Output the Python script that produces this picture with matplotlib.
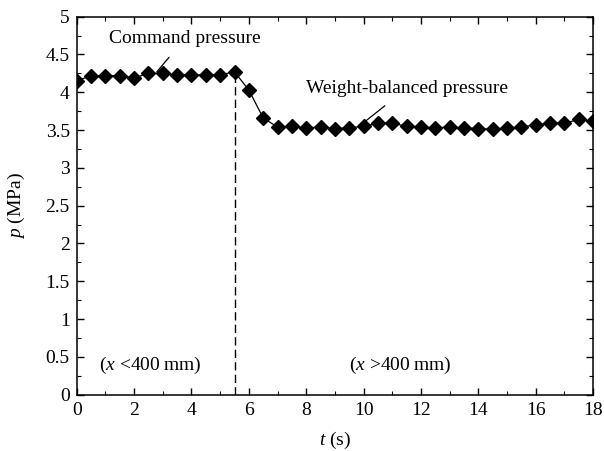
import numpy as np
import matplotlib.pyplot as plt
from matplotlib.ticker import MultipleLocator

plt.rcParams['font.family'] = ['Liberation Serif', 'DejaVu Serif']
plt.rcParams['mathtext.fontset'] = 'custom'
plt.rcParams['mathtext.rm'] = 'Liberation Serif'
plt.rcParams['mathtext.it'] = 'Liberation Serif:italic'

# pressure readings every 0.5 s
t = np.arange(0, 18.01, 0.5)
p = [4.15, 4.22, 4.22, 4.22, 4.19, 4.25, 4.25, 4.23, 4.23, 4.23, 4.23, 4.27,
     4.03, 3.66, 3.54, 3.55,
     3.53, 3.54, 3.52, 3.53, 3.55, 3.59, 3.59, 3.55, 3.54, 3.53, 3.54, 3.53,
     3.52, 3.51, 3.53, 3.54, 3.57, 3.59, 3.59, 3.64, 3.62]
t_switch = 5.5
p_switch = 4.27

yticks = np.arange(0, 5.01, 0.5)
ytick_labels = ['0', '0.5', '1', '1.5', '2', '2.5', '3', '3.5', '4', '4.5', '5']
xticks = np.arange(0, 19, 2)

fs = 14

fig = plt.figure(figsize=(6.04, 4.51), dpi=100)
ax = fig.add_axes([0.127, 0.125, 0.855, 0.838])

ax.plot(t, p, color='black', lw=0.9, marker='D', ms=7.5, mfc='black', mec='black')
ax.plot([t_switch, t_switch], [0, p_switch], color='black', lw=1.0, ls=(0, (6, 3)))

ax.annotate('Command pressure', xy=(2.79, 4.27), xytext=(3.77, 4.71),
            ha='center', va='center', fontsize=fs,
            arrowprops=dict(arrowstyle='-', color='black', lw=0.9, shrinkA=7, shrinkB=0))
ax.annotate('Weight-balanced pressure', xy=(10.04, 3.61), xytext=(11.5, 4.05),
            ha='center', va='center', fontsize=fs,
            arrowprops=dict(arrowstyle='-', color='black', lw=0.9, shrinkA=7, shrinkB=0))

ax.text(2.55, 0.38, '($x$ <400\u2009mm)', ha='center', va='center', fontsize=fs)
ax.text(11.27, 0.38, '($x$ >400\u2009mm)', ha='center', va='center', fontsize=fs)

ax.set_xlim(0, 18)
ax.set_ylim(0, 5)
ax.set_xticks(xticks)
ax.set_yticks(yticks)
ax.set_yticklabels(ytick_labels)
ax.xaxis.set_minor_locator(MultipleLocator(1))
ax.yaxis.set_minor_locator(MultipleLocator(0.25))
ax.tick_params(which='both', direction='in', top=True, right=True, labelsize=fs)
ax.tick_params(which='major', length=5, width=1, pad=5)
ax.tick_params(which='minor', length=3, width=0.8)
for s in ax.spines.values():
    s.set_linewidth(1.1)

ax.set_xlabel('$t$ (s)', fontsize=fs)
ax.set_ylabel('$p$ (MPa)', fontsize=fs)
ax.xaxis.set_label_coords(0.5, -0.093)
ax.yaxis.set_label_coords(-0.097, 0.5)

fig.savefig('out.png', dpi=100)
